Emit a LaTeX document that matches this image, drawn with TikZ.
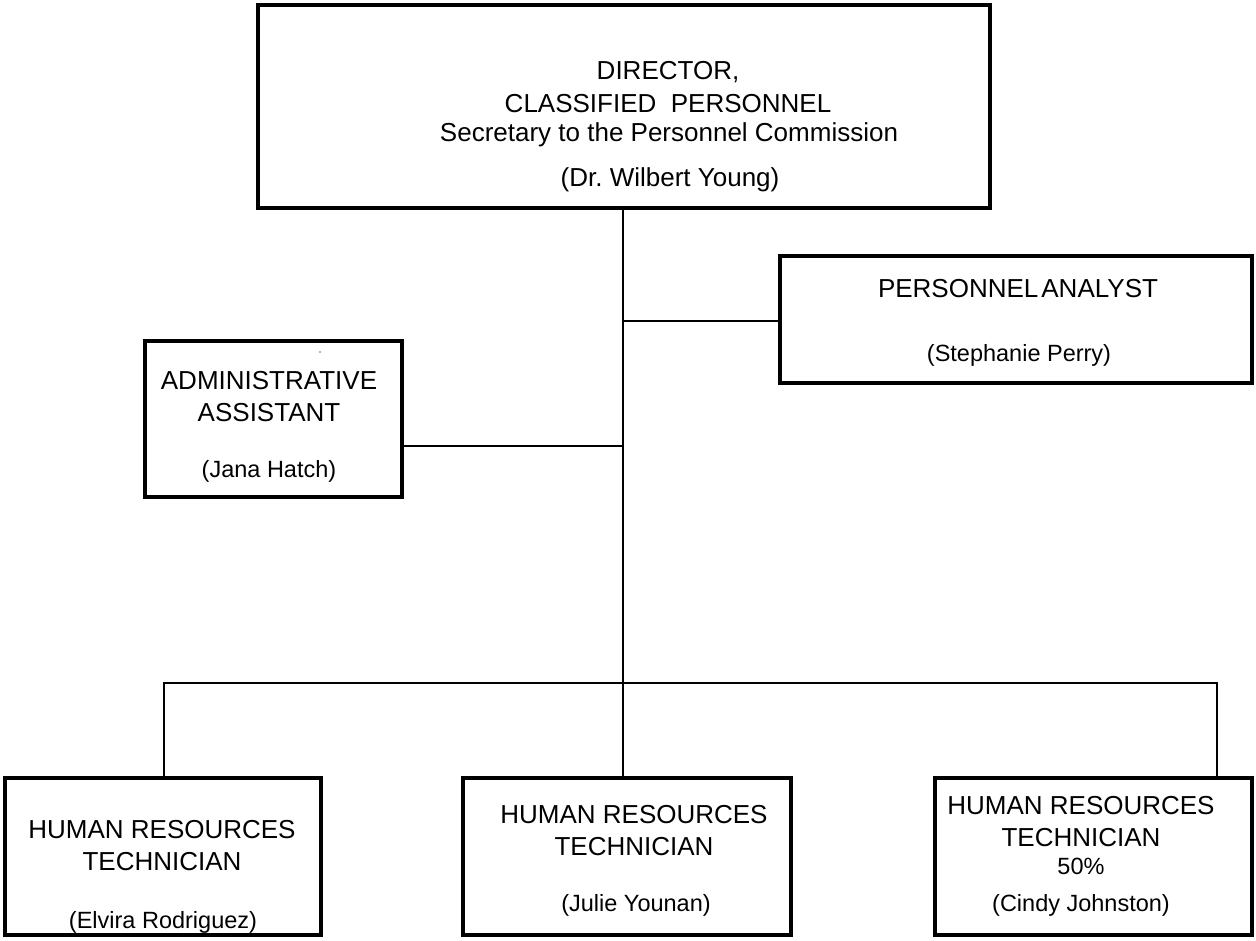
\documentclass[tikz,border=0pt]{standalone}
\usepackage{fontspec}
\setmainfont{Liberation Sans}
\frenchspacing
\begin{document}
\begin{tikzpicture}[x=1pt,y=-1pt,
  box/.style={draw=black,line width=3.1pt,fill=none,inner sep=0pt,minimum width=#1},
  conn/.style={draw=black,line width=2.5pt},
  tA/.style={inner sep=0pt,font=\fontsize{26}{31}\selectfont},
  tB/.style={inner sep=0pt,font=\fontsize{23.5}{28}\selectfont}]
\useasboundingbox (0,0) rectangle (1256,940);
\fill[white] (0,0) rectangle (1256,940);
% boxes
\node[box=732pt,minimum height=203pt] (dir) at (624,106.5) {};
\node[box=472pt,minimum height=127pt] (pa) at (1016,319.5) {};
\node[box=257pt,minimum height=156pt] (aa) at (273.5,419) {};
\node[box=316pt,minimum height=157pt] (hr1) at (163,856.5) {};
\node[box=328pt,minimum height=157pt] (hr2) at (627,856.5) {};
\node[box=317pt,minimum height=157pt] (hr3) at (1093.5,856.5) {};
% junctions
\coordinate (jpa) at (623,321);
\coordinate (jaa) at (623,446);
\coordinate (jbar) at (623,683);
\coordinate (jl) at (164,683);
\coordinate (jr) at (1217,683);
% connectors
\draw[conn] (dir.south -| jbar) -- (jbar);
\draw[conn] (jpa) -- (jpa -| pa.west);
\draw[conn] (jaa) -- (jaa -| aa.east);
\draw[conn] ([xshift=-1.25pt]jl) -- ([xshift=1.25pt]jr);
\draw[conn] (jl) -- (jl |- hr1.north);
\draw[conn] (jbar) -- (jbar |- hr2.north);
\draw[conn] (jr) -- (jr |- hr3.north);
% texts
\node[tA] (d1) at (668,72) {DIRECTOR,};
\node[tA] (d2) at (668,104) {CLASSIFIED\ \ PERSONNEL};
\node[tA] (d3) at (669,135) {Secretary to the Personnel Commission};
\node[tA] (d4) at (670,180) {(Dr. Wilbert Young)};
\node[tA] (p1) at (1018,289) {PERSONNEL\hspace{3pt}ANALYST};
\node[tB] (p2) at (1019,355) {(Stephanie Perry)};
\node[tA] (a1) at (269,381) {ADMINISTRATIVE};
\node[tA] (a2) at (269,413) {ASSISTANT};
\node[tB] (a3) at (269,471) {(Jana Hatch)};
\node[tA] (h11) at (162,830) {HUMAN RESOURCES};
\node[tA] (h12) at (162,862) {TECHNICIAN};
\node[tB] (h13) at (163,922) {(Elvira Rodriguez)};
\node[tA] (h21) at (634,815) {HUMAN RESOURCES};
\node[tA] (h22) at (634,847) {TECHNICIAN};
\node[tB] (h23) at (636,905) {(Julie Younan)};
\node[tA] (h31) at (1081,806) {HUMAN RESOURCES};
\node[tA] (h32) at (1081,838) {TECHNICIAN};
\node[tB] (h33) at (1081,866) {50\%};
\node[tB] (h34) at (1081,905) {(Cindy Johnston)};
\fill[black!60] (320,352) circle (0.8pt);
\end{tikzpicture}
\end{document}
